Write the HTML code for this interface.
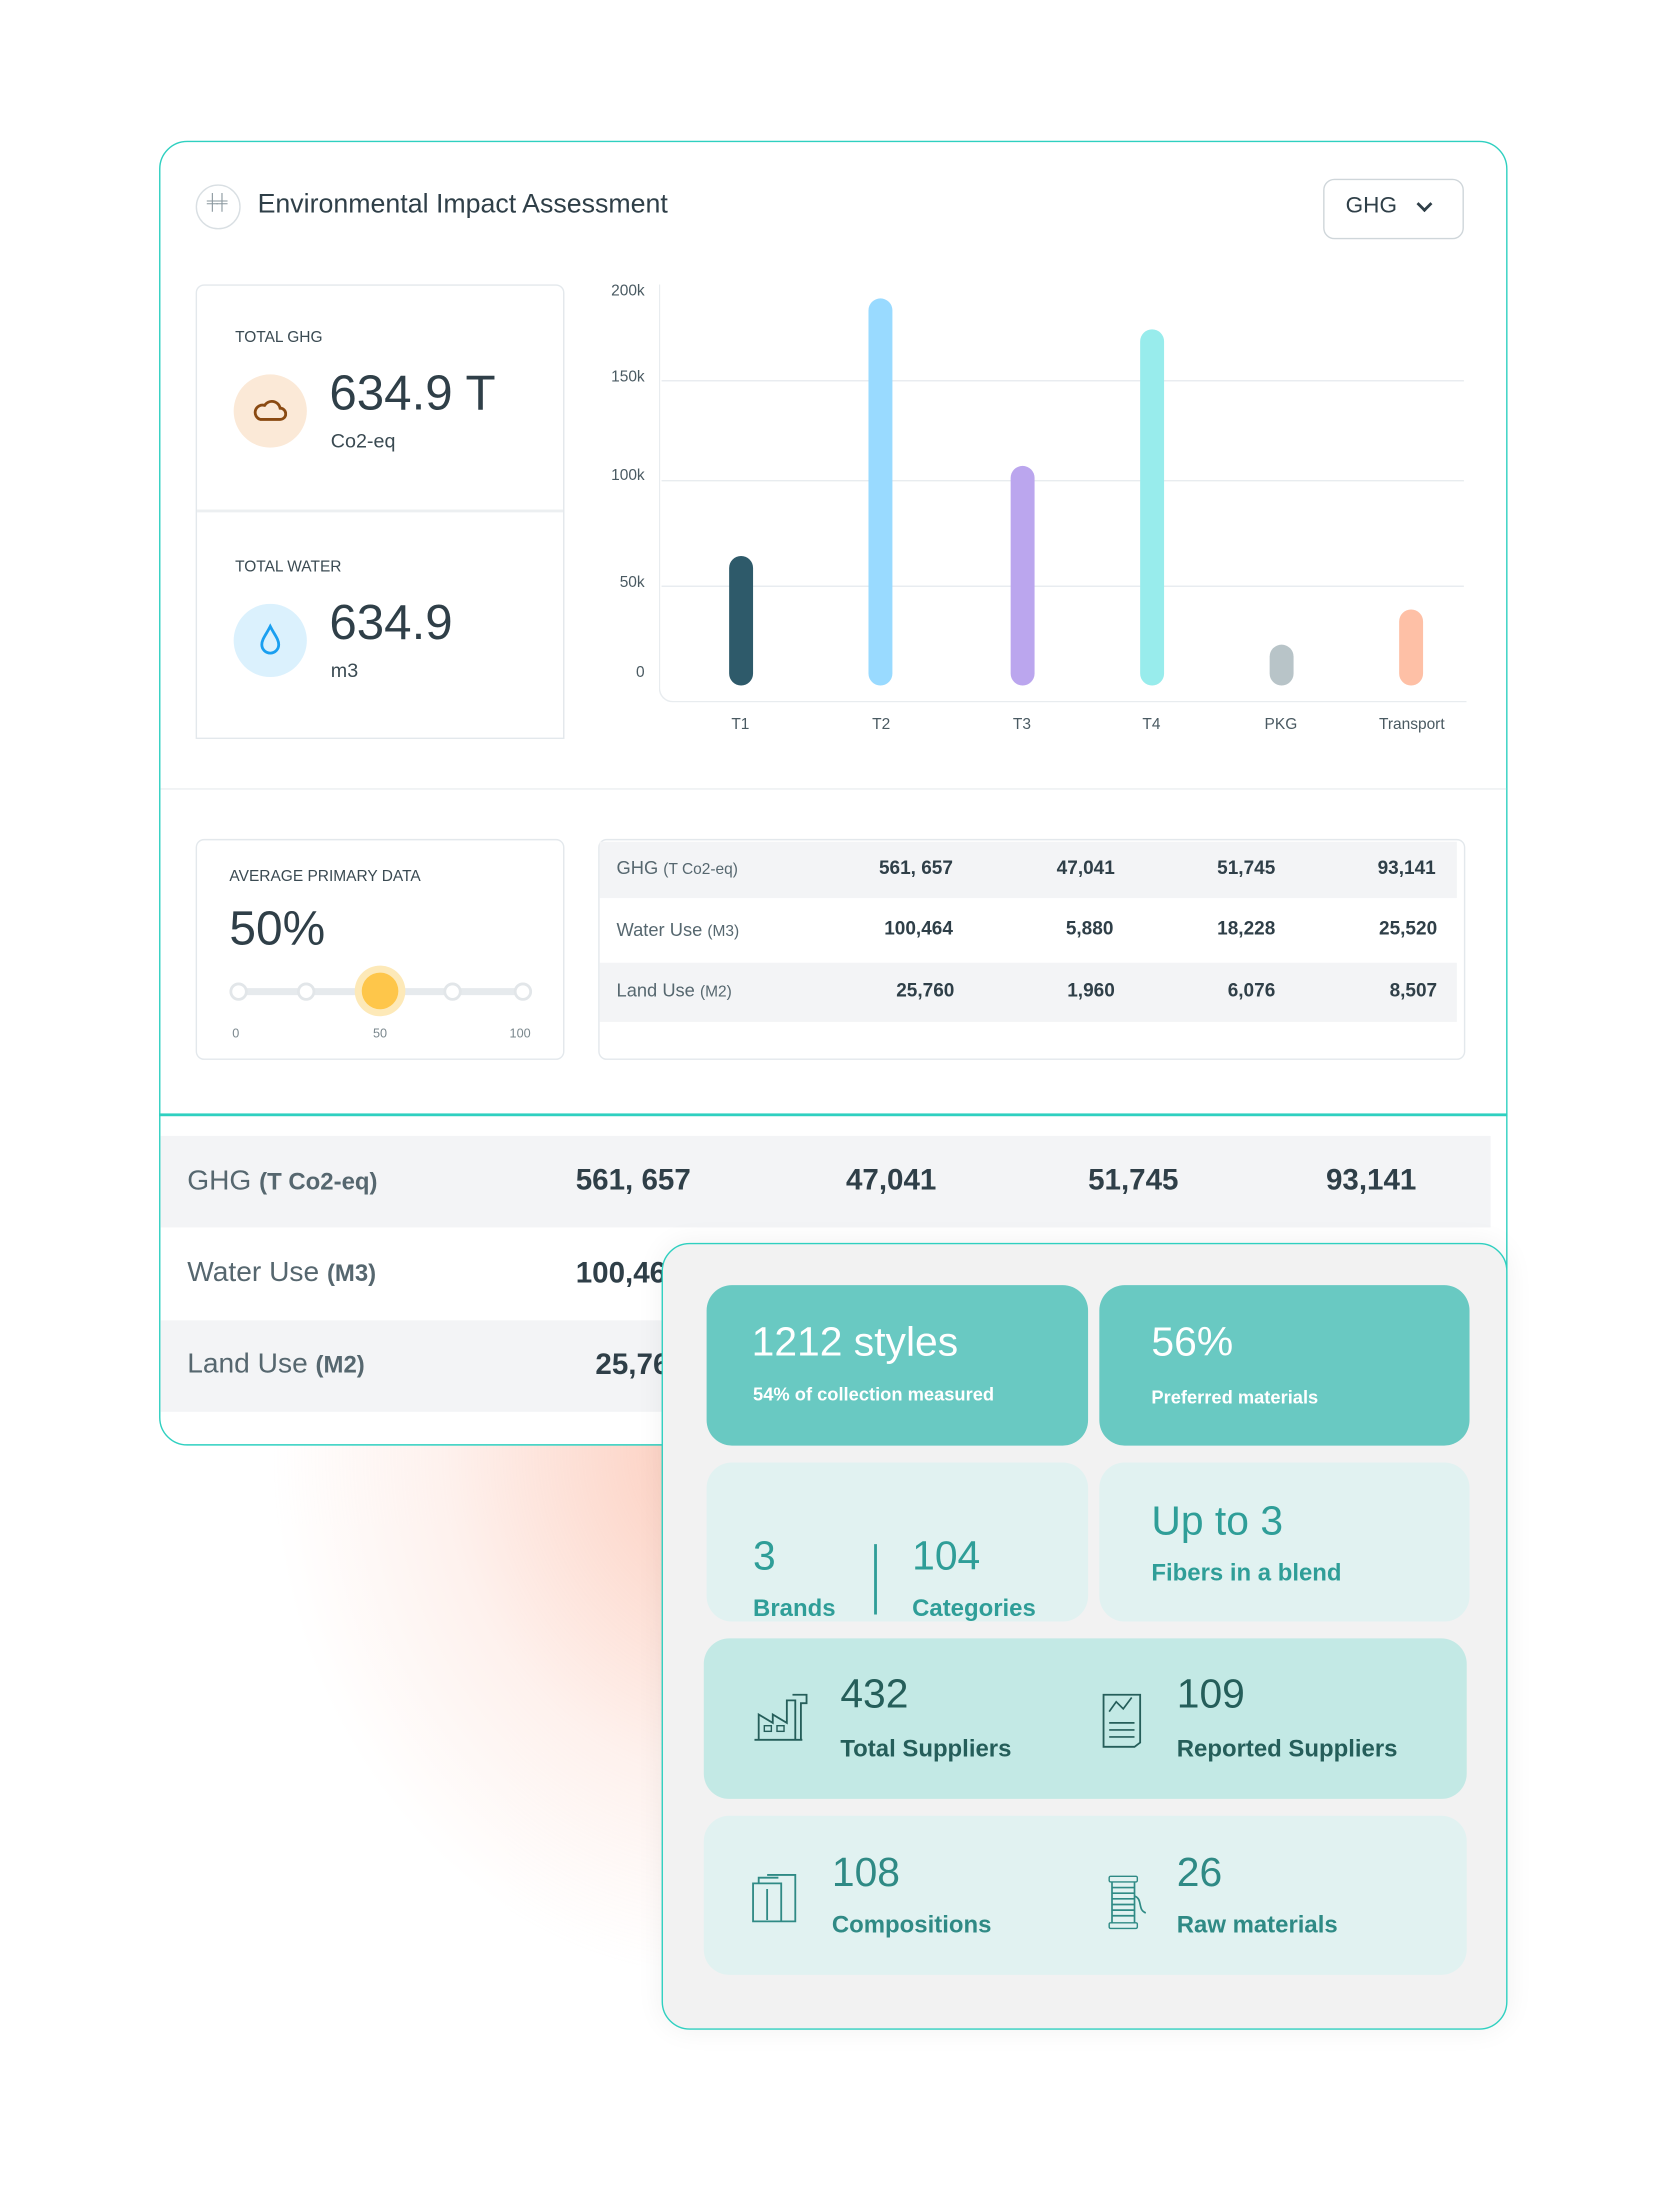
<!DOCTYPE html>
<html><head><meta charset="utf-8"><style>
*{margin:0;padding:0;box-sizing:border-box}
html,body{width:1668px;height:2210px;overflow:hidden;background:#fff}
#w{position:absolute;left:0;top:0;width:1185px;height:1570px;transform:scale(1.40759);transform-origin:0 0;font-family:"Liberation Sans",sans-serif;color:#33464f}
.a{position:absolute}
.t{position:absolute;white-space:nowrap}
.card{position:absolute;border:1px solid #e3e8ec;background:#fff}
.gl{position:absolute;left:470px;width:570px;height:1px;background:#e8ecef}
.bar{position:absolute;width:17px;border-radius:9px}
.yl{position:absolute;width:40px;left:418px;text-align:right;font-size:11px;color:#4a5a62}
.xl{position:absolute;width:80px;text-align:center;font-size:11px;color:#4a5a62;top:509px}
.tile{position:absolute;border-radius:18px}
.n{font-weight:bold}
</style></head><body><div id="w">
<div class="a" style="left:180px;top:960px;width:520px;height:460px;background:radial-gradient(ellipse at 65% 15%,rgba(250,160,130,0.55),rgba(250,185,165,0.2) 42%,rgba(255,255,255,0) 68%)"></div>
<div class="a" style="left:113px;top:100px;width:958px;height:927px;border:1.5px solid #2fd0c0;border-radius:20px;background:#fff;overflow:hidden"></div>
<div class="a" style="left:139px;top:131px;width:32px;height:32px;border:1px solid #d9dfe3;border-radius:50%"></div>
<div class="t" style="left:147px;top:138px;font-size:11px;color:#8a979e;letter-spacing:-1px">╪╪</div>
<div class="t" style="left:183px;top:135px;font-size:19px;color:#2f3f48">Environmental Impact Assessment</div>
<div class="a" style="left:940px;top:127px;width:100px;height:43px;border:1.5px solid #cfd6da;border-radius:8px"></div>
<div class="t" style="left:956px;top:138px;font-size:16px;color:#2f3f48">GHG</div>
<div class="a" style="left:1008px;top:141px;width:8px;height:8px;border-right:2px solid #2f3f48;border-bottom:2px solid #2f3f48;transform:rotate(45deg)"></div>
<div class="card" style="left:139px;top:202px;width:262px;height:323px;border-radius:6px 6px 0 0"></div>
<div class="a" style="left:140px;top:362px;width:260px;height:2px;background:#eceff1"></div>
<div class="t" style="left:167px;top:234px;font-size:11px;color:#3a4a52">TOTAL GHG</div>
<div class="a" style="left:166px;top:266px;width:52px;height:52px;border-radius:50%;background:#fbe9d7"></div>
<svg class="a" style="left:180px;top:281px" width="24" height="20" viewBox="0 0 24 20"><path d="M5 17h14a4 4 0 0 0 0-8 6 6 0 0 0-11-2 5 5 0 0 0-3 10z" fill="none" stroke="#8a4a12" stroke-width="2"/></svg>
<div class="t" style="left:234px;top:260px;font-size:35px;color:#2f3f48">634.9 T</div>
<div class="t" style="left:235px;top:305px;font-size:14px;color:#3a4a52">Co2-eq</div>
<div class="t" style="left:167px;top:397px;font-size:11px;color:#3a4a52">TOTAL WATER</div>
<div class="a" style="left:166px;top:429px;width:52px;height:52px;border-radius:50%;background:#dbf1fd"></div>
<svg class="a" style="left:182px;top:443px" width="20" height="24" viewBox="0 0 20 24"><path d="M10 2C7 8 4 11 4 15a6 6 0 0 0 12 0c0-4-3-7-6-13z" fill="none" stroke="#1a9ff0" stroke-width="2"/></svg>
<div class="t" style="left:234px;top:423px;font-size:35px;color:#2f3f48">634.9</div>
<div class="t" style="left:235px;top:468px;font-size:14px;color:#3a4a52">m3</div>
<div class="gl" style="top:270px"></div><div class="gl" style="top:341px"></div><div class="gl" style="top:416px"></div>
<div class="a" style="left:468px;top:202px;width:574px;height:297px;border-left:1.5px solid #e8ecef;border-bottom:1.5px solid #e8ecef;border-bottom-left-radius:10px"></div>
<div class="yl" style="top:201px">200k</div><div class="yl" style="top:262px">150k</div><div class="yl" style="top:332px">100k</div><div class="yl" style="top:408px">50k</div><div class="yl" style="top:472px">0</div>
<div class="bar" style="left:518px;top:395px;height:92px;background:#2e5a6a"></div>
<div class="bar" style="left:617px;top:212px;height:275px;background:#99daff"></div>
<div class="bar" style="left:718px;top:331px;height:156px;background:#bba6ee"></div>
<div class="bar" style="left:810px;top:234px;height:253px;background:#98ecec"></div>
<div class="bar" style="left:902px;top:458px;height:29px;background:#b8c4c8"></div>
<div class="bar" style="left:994px;top:433px;height:54px;background:#fec0a6"></div>
<div class="xl" style="left:486px">T1</div><div class="xl" style="left:586px">T2</div><div class="xl" style="left:686px">T3</div><div class="xl" style="left:778px">T4</div><div class="xl" style="left:870px">PKG</div><div class="xl" style="left:963px">Transport</div>
<div class="a" style="left:114px;top:560px;width:956px;height:1px;background:#eceff1"></div>
<div class="card" style="left:139px;top:596px;width:262px;height:157px;border-radius:6px"></div>
<div class="t" style="left:163px;top:617px;font-size:11px;color:#3a4a52">AVERAGE PRIMARY DATA</div>
<div class="t" style="left:163px;top:641px;font-size:34px;color:#2f3f48">50%</div>
<div class="a" style="left:168px;top:702px;width:204px;height:5px;background:#e6eaed;border-radius:3px"></div>
<div class="a" style="left:163px;top:698px;width:13px;height:13px;border-radius:50%;background:#fff;border:2px solid #e2e6e9"></div>
<div class="a" style="left:211px;top:698px;width:13px;height:13px;border-radius:50%;background:#fff;border:2px solid #e2e6e9"></div>
<div class="a" style="left:315px;top:698px;width:13px;height:13px;border-radius:50%;background:#fff;border:2px solid #e2e6e9"></div>
<div class="a" style="left:365px;top:698px;width:13px;height:13px;border-radius:50%;background:#fff;border:2px solid #e2e6e9"></div>
<div class="a" style="left:252px;top:686px;width:36px;height:36px;border-radius:50%;background:#fde9b8"></div>
<div class="a" style="left:257px;top:691px;width:26px;height:26px;border-radius:50%;background:#fec64a"></div>
<div class="t" style="left:165px;top:729px;font-size:9px;color:#7a878d">0</div>
<div class="t" style="left:265px;top:729px;font-size:9px;color:#7a878d">50</div>
<div class="t" style="left:362px;top:729px;font-size:9px;color:#7a878d">100</div>
<div class="card" style="left:425px;top:596px;width:616px;height:157px;border-radius:6px"></div>
<div class="a" style="left:426px;top:598px;width:609px;height:40px;background:#f3f4f6"></div>
<div class="a" style="left:426px;top:684px;width:609px;height:42px;background:#f3f4f6"></div>
<div class="t" style="left:438px;top:609px;font-size:13px;color:#56676f">GHG <span style="font-size:11px">(T Co2-eq)</span></div>
<div class="t" style="left:438px;top:653px;font-size:13px;color:#56676f">Water Use <span style="font-size:11px">(M3)</span></div>
<div class="t" style="left:438px;top:696px;font-size:13px;color:#56676f">Land Use <span style="font-size:11px">(M2)</span></div>
<div class="t n" style="left:560px;top:609px;width:117px;text-align:right;font-size:13.5px;color:#2f3f48">561, 657</div>
<div class="t n" style="left:700px;top:609px;width:92px;text-align:right;font-size:13.5px;color:#2f3f48">47,041</div>
<div class="t n" style="left:810px;top:609px;width:96px;text-align:right;font-size:13.5px;color:#2f3f48">51,745</div>
<div class="t n" style="left:920px;top:609px;width:100px;text-align:right;font-size:13.5px;color:#2f3f48">93,141</div>
<div class="t n" style="left:560px;top:652px;width:117px;text-align:right;font-size:13.5px;color:#2f3f48">100,464</div>
<div class="t n" style="left:700px;top:652px;width:91px;text-align:right;font-size:13.5px;color:#2f3f48">5,880</div>
<div class="t n" style="left:810px;top:652px;width:96px;text-align:right;font-size:13.5px;color:#2f3f48">18,228</div>
<div class="t n" style="left:920px;top:652px;width:101px;text-align:right;font-size:13.5px;color:#2f3f48">25,520</div>
<div class="t n" style="left:560px;top:696px;width:118px;text-align:right;font-size:13.5px;color:#2f3f48">25,760</div>
<div class="t n" style="left:700px;top:696px;width:92px;text-align:right;font-size:13.5px;color:#2f3f48">1,960</div>
<div class="t n" style="left:810px;top:696px;width:96px;text-align:right;font-size:13.5px;color:#2f3f48">6,076</div>
<div class="t n" style="left:920px;top:696px;width:101px;text-align:right;font-size:13.5px;color:#2f3f48">8,507</div>
<div class="a" style="left:113px;top:791px;width:958px;height:2px;background:#2fd0c0"></div>
<div class="a" style="left:114px;top:807px;width:945px;height:65px;background:#f3f4f6"></div>
<div class="a" style="left:114px;top:938px;width:945px;height:65px;background:#f3f4f6"></div>
<div class="t" style="left:133px;top:828px;font-size:20px;color:#56676f">GHG <span style="font-size:17px;font-weight:bold">(T Co2-eq)</span></div>
<div class="t" style="left:133px;top:893px;font-size:20px;color:#56676f">Water Use <span style="font-size:17px;font-weight:bold">(M3)</span></div>
<div class="t" style="left:133px;top:958px;font-size:20px;color:#56676f">Land Use <span style="font-size:17px;font-weight:bold">(M2)</span></div>
<div class="t n" style="left:409px;top:827px;font-size:21px;color:#2f3f48">561, 657</div>
<div class="t n" style="left:601px;top:827px;font-size:21px;color:#2f3f48">47,041</div>
<div class="t n" style="left:773px;top:827px;font-size:21px;color:#2f3f48">51,745</div>
<div class="t n" style="left:942px;top:827px;font-size:21px;color:#2f3f48">93,141</div>
<div class="t n" style="left:409px;top:893px;font-size:21px;color:#2f3f48">100,464</div>
<div class="t n" style="left:423px;top:958px;font-size:21px;color:#2f3f48">25,760</div>
<div class="a" style="left:470px;top:883px;width:601px;height:559px;border:1.5px solid #2fd0c0;border-radius:20px;background:#f2f2f2;box-shadow:0 0 20px rgba(0,0,0,0.06)"></div>
<div class="tile" style="left:502px;top:913px;width:271px;height:114px;background:#69c9c2"></div>
<div class="tile" style="left:781px;top:913px;width:263px;height:114px;background:#69c9c2"></div>
<div class="t" style="left:534px;top:938px;font-size:29px;color:#fff">1212 styles</div>
<div class="t" style="left:535px;top:983px;font-size:13px;color:#fff;font-weight:bold">54% of collection measured</div>
<div class="t" style="left:818px;top:938px;font-size:29px;color:#fff">56%</div>
<div class="t" style="left:818px;top:985px;font-size:13px;color:#fff;font-weight:bold">Preferred materials</div>
<div class="tile" style="left:502px;top:1039px;width:271px;height:113px;background:#e1f2f1"></div>
<div class="tile" style="left:781px;top:1039px;width:263px;height:113px;background:#e1f2f1"></div>
<div class="t" style="left:535px;top:1090px;font-size:29px;color:#2f9e98">3</div>
<div class="t" style="left:535px;top:1133px;font-size:17px;color:#2f9e98;font-weight:bold">Brands</div>
<div class="a" style="left:621px;top:1097px;width:1.5px;height:50px;background:#2f9e98"></div>
<div class="t" style="left:648px;top:1090px;font-size:29px;color:#2f9e98">104</div>
<div class="t" style="left:648px;top:1133px;font-size:17px;color:#2f9e98;font-weight:bold">Categories</div>
<div class="t" style="left:818px;top:1065px;font-size:29px;color:#2f9e98">Up to 3</div>
<div class="t" style="left:818px;top:1108px;font-size:17px;color:#2f9e98;font-weight:bold">Fibers in a blend</div>
<div class="tile" style="left:500px;top:1164px;width:542px;height:114px;background:#c3e9e5"></div>
<svg class="a" style="left:535px;top:1202px" width="40" height="36" viewBox="0 0 40 36"><path d="M1 34h34M4 34V16l10 6v-6l10 6V6h6v28M28 2h10v6h-4v26" fill="none" stroke="#255e5a" stroke-width="1.3"/><rect x="8" y="24" width="5" height="4" fill="none" stroke="#255e5a"/><rect x="17" y="24" width="5" height="4" fill="none" stroke="#255e5a"/></svg>
<div class="t" style="left:597px;top:1188px;font-size:29px;color:#255e5a">432</div>
<div class="t" style="left:597px;top:1233px;font-size:17px;color:#255e5a;font-weight:bold">Total Suppliers</div>
<svg class="a" style="left:782px;top:1202px" width="34" height="40" viewBox="0 0 34 40"><path d="M2 2h26v34l-4 3H2z" fill="none" stroke="#255e5a" stroke-width="1.3"/><path d="M6 14l5-7 5 5 6-8M6 22h18M6 27h18M6 32h18" fill="none" stroke="#255e5a" stroke-width="1.2"/></svg>
<div class="t" style="left:836px;top:1188px;font-size:29px;color:#255e5a">109</div>
<div class="t" style="left:836px;top:1233px;font-size:17px;color:#255e5a;font-weight:bold">Reported Suppliers</div>
<div class="tile" style="left:500px;top:1290px;width:542px;height:113px;background:#e1f2f1"></div>
<svg class="a" style="left:533px;top:1330px" width="34" height="36" viewBox="0 0 34 36"><path d="M2 8h20v27H2zM12 2h20v33H22M6 8V4h14M12 12v22" fill="none" stroke="#2f8a85" stroke-width="1.3"/></svg>
<div class="t" style="left:591px;top:1315px;font-size:29px;color:#2f8a85">108</div>
<div class="t" style="left:591px;top:1358px;font-size:17px;color:#2f8a85;font-weight:bold">Compositions</div>
<svg class="a" style="left:786px;top:1332px" width="32" height="40" viewBox="0 0 32 40"><rect x="2" y="1" width="20" height="4" rx="1" fill="none" stroke="#2f8a85"/><rect x="2" y="34" width="20" height="4" rx="1" fill="none" stroke="#2f8a85"/><path d="M4 5v29M20 5v29M4 9h16M4 13h16M4 17h16M4 21h16M4 25h16M4 29h16M20 15c6 2 2 10 8 12" fill="none" stroke="#2f8a85" stroke-width="1.2"/></svg>
<div class="t" style="left:836px;top:1315px;font-size:29px;color:#2f8a85">26</div>
<div class="t" style="left:836px;top:1358px;font-size:17px;color:#2f8a85;font-weight:bold">Raw materials</div>
</div></body></html>
